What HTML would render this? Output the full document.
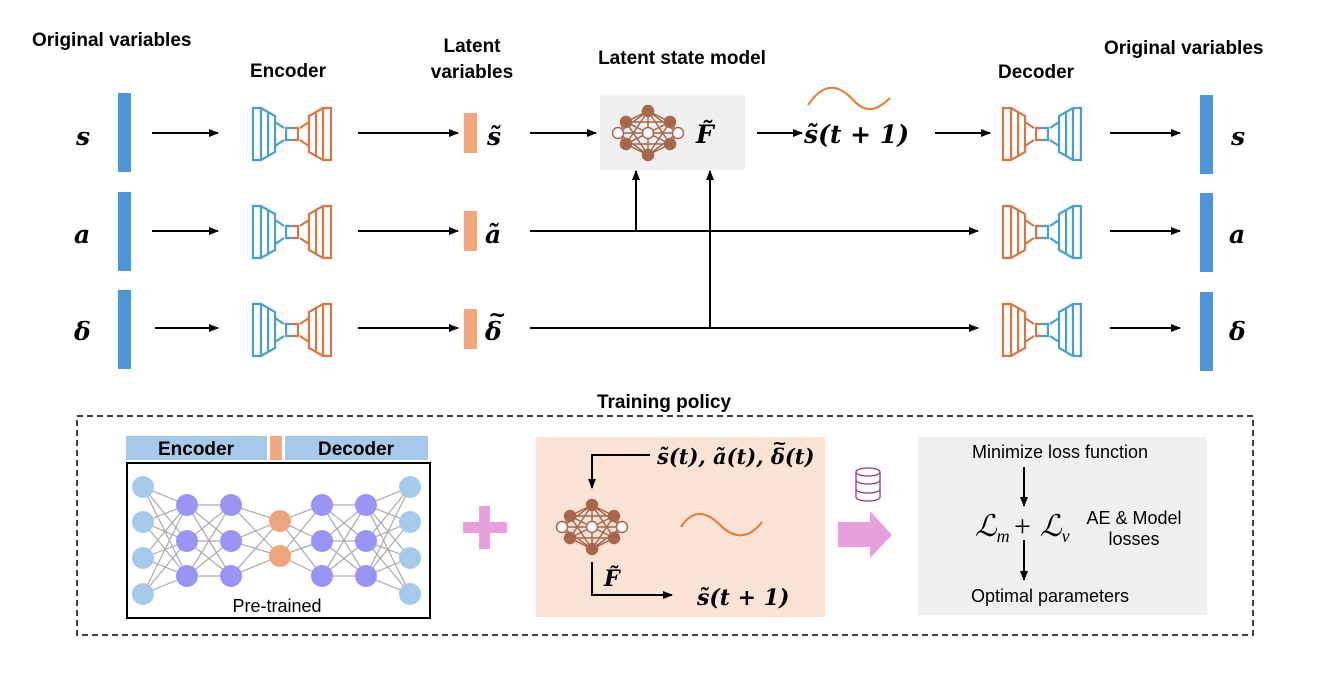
<!DOCTYPE html>
<html><head><meta charset="utf-8"><style>
html,body{margin:0;padding:0;background:#fff}
svg{display:block}
.h{font-family:"Liberation Sans",sans-serif;font-weight:bold;font-size:19px;fill:#000}
.m{font-family:"DejaVu Serif",serif;font-weight:bold;font-style:italic;font-size:25px;fill:#000}
.t{font-family:"Liberation Sans",sans-serif;font-size:18px;fill:#000}
</style></head><body>
<svg width="1328" height="675" viewBox="0 0 1328 675" xmlns="http://www.w3.org/2000/svg">
<defs>
<marker id="ar" markerWidth="10" markerHeight="8" refX="9" refY="4" orient="auto" markerUnits="userSpaceOnUse">
<path d="M0,0 L10,4 L0,8 Z" fill="#000"/></marker>
<g id="half" fill="none" stroke="currentColor" stroke-width="2.2">
<path d="M-39,-26 H-31 L-17,-18 V18 L-31,26 H-39 Z"/>
<line x1="-31" y1="-26" x2="-31" y2="26"/>
<line x1="-24" y1="-22" x2="-24" y2="22"/>
<line x1="-17" y1="-12" x2="-8" y2="-6"/>
<line x1="-17" y1="12" x2="-8" y2="6"/>
<path d="M0,-6 H-6 V6 H0"/>
</g>
<g id="enc"><use href="#half" style="color:#4a9fca"/><use href="#half" transform="scale(-1,1)" style="color:#d4784a"/></g>
<g id="dec"><use href="#half" style="color:#d4784a"/><use href="#half" transform="scale(-1,1)" style="color:#4a9fca"/></g>
<g id="nn" stroke="#a8674d" stroke-width="1.5" fill="#a8674d">
<g fill="none">
<path d="M0,-22 L-22,-11 L-30,0 L-22,11 L0,22 L22,11 L30,0 L22,-11 Z"/>
<path d="M0,-22 L0,22 M-22,-11 L22,11 M22,-11 L-22,11 M-30,0 L30,0 M-22,-11 L22,-11 M-22,11 L22,11 M0,-22 L-22,11 M0,-22 L22,11 M0,22 L-22,-11 M0,22 L22,-11 M-30,0 L0,-22 M-30,0 L0,22 M30,0 L0,-22 M30,0 L0,22"/>
</g>
<circle cx="0" cy="-22" r="5.5"/><circle cx="0" cy="22" r="5.5"/>
<circle cx="-22" cy="-11" r="5.5"/><circle cx="22" cy="-11" r="5.5"/>
<circle cx="-22" cy="11" r="5.5"/><circle cx="22" cy="11" r="5.5"/>
<circle cx="-30" cy="0" r="5.5" fill="#fff"/><circle cx="30" cy="0" r="5.5" fill="#fff"/><circle cx="0" cy="0" r="5.5" fill="#fff"/>
</g>
</defs>

<text class="h" x="32" y="46">Original variables</text>
<text class="h" x="250" y="77">Encoder</text>
<text class="h" x="472" y="52" text-anchor="middle">Latent</text>
<text class="h" x="472" y="78" text-anchor="middle">variables</text>
<text class="h" x="682" y="64" text-anchor="middle">Latent state model</text>
<text class="h" x="998" y="78">Decoder</text>
<text class="h" x="1104" y="54">Original variables</text>

<rect x="118" y="93" width="13" height="79" fill="#4f95d8"/>
<rect x="118" y="192" width="13" height="79" fill="#4f95d8"/>
<rect x="118" y="290" width="13" height="79" fill="#4f95d8"/>
<text class="m" x="76" y="145">s</text>
<text class="m" x="74" y="243">a</text>
<text class="m" x="74" y="340">δ</text>

<rect x="1200" y="95" width="13" height="79" fill="#4f95d8"/>
<rect x="1200" y="193" width="13" height="79" fill="#4f95d8"/>
<rect x="1200" y="292" width="13" height="79" fill="#4f95d8"/>
<text class="m" x="1231" y="145">s</text>
<text class="m" x="1229" y="243">a</text>
<text class="m" x="1229" y="340">δ</text>

<g stroke="#000" stroke-width="2" marker-end="url(#ar)">
<line x1="152" y1="133" x2="218" y2="133"/>
<line x1="152" y1="231" x2="218" y2="231"/>
<line x1="155" y1="328" x2="218" y2="328"/>
<line x1="358" y1="133" x2="458" y2="133"/>
<line x1="358" y1="231" x2="458" y2="231"/>
<line x1="358" y1="328" x2="458" y2="328"/>
<line x1="530" y1="133" x2="596" y2="133"/>
<line x1="757" y1="133" x2="802" y2="133"/>
<line x1="935" y1="133" x2="990" y2="133"/>
<line x1="530" y1="231" x2="978" y2="231"/>
<line x1="530" y1="328" x2="978" y2="328"/>
<line x1="1110" y1="133" x2="1180" y2="133"/>
<line x1="1110" y1="231" x2="1180" y2="231"/>
<line x1="1110" y1="328" x2="1180" y2="328"/>
<line x1="636" y1="231" x2="636" y2="171"/>
<line x1="710" y1="328" x2="710" y2="171"/>
</g>

<use href="#enc" x="292" y="134"/>
<use href="#enc" x="292" y="232"/>
<use href="#enc" x="292" y="330"/>
<use href="#dec" x="1042" y="134"/>
<use href="#dec" x="1042" y="232"/>
<use href="#dec" x="1042" y="330"/>

<rect x="464" y="113" width="13" height="40" fill="#f2a77f"/>
<rect x="464" y="211" width="13" height="40" fill="#f2a77f"/>
<rect x="464" y="309" width="13" height="40" fill="#f2a77f"/>
<text class="m" x="487" y="145">s̃</text>
<text class="m" x="485" y="243">ã</text>
<text class="m" x="485" y="340">δ</text>
<text class="m" x="488" y="322" style="font-size:22px">~</text>

<rect x="600" y="95" width="145" height="75" fill="#f0f0f0"/>
<use href="#nn" x="648" y="133"/>
<text class="m" x="696" y="143">F̃</text>
<text class="m" x="804" y="143">s̃(t + 1)</text>
<path d="M808,105 C825,80 840,85 855,102 C868,115 880,108 890,98" fill="none" stroke="#ea7a2e" stroke-width="2"/>

<text class="h" x="664" y="408" text-anchor="middle">Training policy</text>
<rect x="77" y="416" width="1176" height="219" fill="none" stroke="#000" stroke-width="1.5" stroke-dasharray="6,4"/>

<rect x="126" y="436" width="141" height="24" fill="#a6caea"/>
<rect x="270" y="436" width="12" height="24" fill="#f2a77f"/>
<rect x="285" y="436" width="143" height="24" fill="#a6caea"/>
<text class="h" x="196" y="455" text-anchor="middle">Encoder</text>
<text class="h" x="356" y="455" text-anchor="middle">Decoder</text>
<rect x="127" y="463" width="303" height="155" fill="#fff" stroke="#000" stroke-width="2"/>
<g stroke="#aaa" stroke-width="1.2">
<path d="M143,487 L187,505 M143,487 L187,541 M143,487 L187,576 M143,522 L187,505 M143,522 L187,541 M143,522 L187,576 M143,558 L187,505 M143,558 L187,541 M143,558 L187,576 M143,594 L187,505 M143,594 L187,541 M143,594 L187,576"/>
<path d="M187,505 L231,505 M187,505 L231,541 M187,505 L231,576 M187,541 L231,505 M187,541 L231,541 M187,541 L231,576 M187,576 L231,505 M187,576 L231,541 M187,576 L231,576"/>
<path d="M231,505 L280,521 M231,505 L280,556 M231,541 L280,521 M231,541 L280,556 M231,576 L280,521 M231,576 L280,556"/>
<path d="M280,521 L322,505 M280,521 L322,541 M280,521 L322,576 M280,556 L322,505 M280,556 L322,541 M280,556 L322,576"/>
<path d="M322,505 L366,505 M322,505 L366,541 M322,505 L366,576 M322,541 L366,505 M322,541 L366,541 M322,541 L366,576 M322,576 L366,505 M322,576 L366,541 M322,576 L366,576"/>
<path d="M366,505 L410,487 M366,505 L410,522 M366,505 L410,558 M366,505 L410,594 M366,541 L410,487 M366,541 L410,522 M366,541 L410,558 M366,541 L410,594 M366,576 L410,487 M366,576 L410,522 M366,576 L410,558 M366,576 L410,594"/>
</g>
<g fill="#a6caea"><circle cx="143" cy="487" r="11"/><circle cx="143" cy="522" r="11"/><circle cx="143" cy="558" r="11"/><circle cx="143" cy="594" r="11"/>
<circle cx="410" cy="487" r="11"/><circle cx="410" cy="522" r="11"/><circle cx="410" cy="558" r="11"/><circle cx="410" cy="594" r="11"/></g>
<g fill="#9a94f5"><circle cx="187" cy="505" r="11"/><circle cx="187" cy="541" r="11"/><circle cx="187" cy="576" r="11"/>
<circle cx="231" cy="505" r="11"/><circle cx="231" cy="541" r="11"/><circle cx="231" cy="576" r="11"/>
<circle cx="322" cy="505" r="11"/><circle cx="322" cy="541" r="11"/><circle cx="322" cy="576" r="11"/>
<circle cx="366" cy="505" r="11"/><circle cx="366" cy="541" r="11"/><circle cx="366" cy="576" r="11"/></g>
<g fill="#f0a47c"><circle cx="280" cy="521" r="11"/><circle cx="280" cy="556" r="11"/></g>
<text class="t" x="277" y="612" text-anchor="middle">Pre-trained</text>

<rect x="463" y="522" width="44" height="11" fill="#e6a0dc"/>
<rect x="479" y="506" width="11" height="43" fill="#e6a0dc"/>

<rect x="536" y="437" width="289" height="180" fill="#fbe3d5"/>
<g stroke="#000" stroke-width="2" fill="none">
<path d="M650,455 H592 V488" marker-end="url(#ar)"/>
<path d="M592,562 V595 H672" marker-end="url(#ar)"/>
</g>
<use href="#nn" x="592" y="527"/>
<text class="m" x="657" y="464" style="font-size:21px">s̃(t), ã(t), δ(t)</text>
<text class="m" x="772" y="449" style="font-size:18px">~</text>
<text class="m" x="604" y="586" style="font-size:22px">F̃</text>
<text class="m" x="697" y="605" style="font-size:22px">s̃(t + 1)</text>
<path d="M681,527 C692,510 705,510 720,525 C735,540 750,538 762,522" fill="none" stroke="#ea7a2e" stroke-width="2"/>

<g fill="none" stroke="#8a3a8a" stroke-width="1.3">
<ellipse cx="868" cy="472" rx="12" ry="4"/>
<path d="M856,472 V497 A12,4 0 0 0 880,497 V472 M856,480 A12,4 0 0 0 880,480 M856,489 A12,4 0 0 0 880,489"/>
</g>
<path d="M838,522 H870 V511 L892,535 L870,558 V547 H838 Z" fill="#e6a0dc"/>

<rect x="918" y="437" width="289" height="178" fill="#f0f0f0"/>
<text class="t" x="1060" y="458" text-anchor="middle">Minimize loss function</text>
<g stroke="#000" stroke-width="2" marker-end="url(#ar)">
<line x1="1024" y1="467" x2="1024" y2="506"/>
<line x1="1024" y1="540" x2="1024" y2="580"/>
</g>
<text x="975" y="536" style="font-family:'Liberation Serif',serif;font-style:italic;font-size:30px">ℒ<tspan style="font-size:18px" dy="6">m</tspan></text>
<text x="1014" y="536" style="font-family:'Liberation Serif',serif;font-size:30px">+</text>
<text x="1040" y="536" style="font-family:'Liberation Serif',serif;font-style:italic;font-size:30px">ℒ<tspan style="font-size:18px" dy="6">v</tspan></text>
<text class="t" x="1134" y="524" text-anchor="middle">AE &amp; Model</text>
<text class="t" x="1134" y="545" text-anchor="middle">losses</text>
<text class="t" x="1050" y="602" text-anchor="middle">Optimal parameters</text>
</svg>
</body></html>
